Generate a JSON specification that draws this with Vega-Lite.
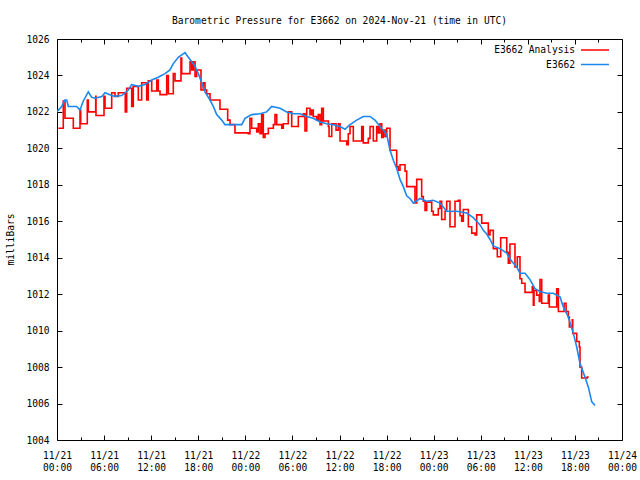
{
  "$schema": "https://vega.github.io/schema/vega-lite/v6.json",
  "width": 565,
  "height": 401,
  "autosize": {"type": "none"},
  "padding": {"left": 57, "top": 39, "right": 18, "bottom": 40},
  "background": "white",
  "title": {
    "text": "Barometric Pressure for E3662 on 2024-Nov-21 (time in UTC)",
    "font": "DejaVu Sans Mono",
    "fontSize": 9.6,
    "fontWeight": "normal",
    "color": "black",
    "anchor": "middle",
    "offset": 8
  },
  "config": {
    "view": {"stroke": "black", "strokeWidth": 1},
    "axis": {
      "labelFont": "DejaVu Sans Mono",
      "labelFontSize": 9.6,
      "labelColor": "black",
      "titleFont": "DejaVu Sans Mono",
      "titleFontSize": 9.6,
      "titleFontWeight": "normal",
      "titleColor": "black",
      "tickColor": "black",
      "domain": false,
      "grid": false
    },
    "legend": {
      "labelFont": "DejaVu Sans Mono",
      "labelFontSize": 9.6,
      "labelColor": "black"
    }
  },
  "datasets": {
    "analysis": [
      {"hour": 0.17, "p": 1021.1}, {"hour": 0.80, "p": 1022.6}, {"hour": 1.02, "p": 1021.65}, {"hour": 2.08, "p": 1021.1},
      {"hour": 2.93, "p": 1022.1}, {"hour": 3.02, "p": 1021.35}, {"hour": 3.86, "p": 1022.65}, {"hour": 3.99, "p": 1022.0},
      {"hour": 4.93, "p": 1022.85}, {"hour": 4.97, "p": 1021.8}, {"hour": 5.99, "p": 1022.85}, {"hour": 6.12, "p": 1022.2},
      {"hour": 6.97, "p": 1023.05}, {"hour": 7.39, "p": 1022.85}, {"hour": 7.81, "p": 1023.05}, {"hour": 8.67, "p": 1023.0},
      {"hour": 8.70, "p": 1022.0}, {"hour": 8.88, "p": 1023.3}, {"hour": 9.52, "p": 1022.3}, {"hour": 9.72, "p": 1023.4},
      {"hour": 10.36, "p": 1022.65}, {"hour": 10.79, "p": 1023.6}, {"hour": 11.43, "p": 1022.65}, {"hour": 11.63, "p": 1023.7},
      {"hour": 12.07, "p": 1023.15}, {"hour": 12.71, "p": 1023.75}, {"hour": 12.91, "p": 1023.15}, {"hour": 13.13, "p": 1022.95},
      {"hour": 13.98, "p": 1024.0}, {"hour": 14.19, "p": 1023.0}, {"hour": 14.82, "p": 1024.1}, {"hour": 15.04, "p": 1023.7},
      {"hour": 15.80, "p": 1024.95}, {"hour": 15.89, "p": 1024.1}, {"hour": 16.95, "p": 1024.75}, {"hour": 17.17, "p": 1024.3},
      {"hour": 17.37, "p": 1024.75}, {"hour": 17.59, "p": 1023.95}, {"hour": 17.80, "p": 1024.3}, {"hour": 18.35, "p": 1023.2},
      {"hour": 18.64, "p": 1023.6}, {"hour": 18.86, "p": 1023.2}, {"hour": 19.07, "p": 1023.0}, {"hour": 19.50, "p": 1022.65},
      {"hour": 20.77, "p": 1022.15}, {"hour": 21.75, "p": 1021.55}, {"hour": 22.05, "p": 1021.3}, {"hour": 22.68, "p": 1020.85},
      {"hour": 24.38, "p": 1020.8}, {"hour": 24.59, "p": 1021.65}, {"hour": 24.81, "p": 1021.1}, {"hour": 25.45, "p": 1020.9},
      {"hour": 25.65, "p": 1021.35}, {"hour": 25.87, "p": 1020.8}, {"hour": 26.08, "p": 1021.85}, {"hour": 26.29, "p": 1020.6},
      {"hour": 26.51, "p": 1020.8}, {"hour": 26.93, "p": 1021.1}, {"hour": 27.57, "p": 1021.3}, {"hour": 27.78, "p": 1021.85},
      {"hour": 28.0, "p": 1021.3}, {"hour": 28.64, "p": 1021.1}, {"hour": 28.84, "p": 1021.35}, {"hour": 29.47, "p": 1022.0},
      {"hour": 29.91, "p": 1021.2}, {"hour": 30.75, "p": 1021.75}, {"hour": 31.39, "p": 1021.9}, {"hour": 31.60, "p": 1020.95},
      {"hour": 31.82, "p": 1022.2}, {"hour": 32.24, "p": 1021.85}, {"hour": 32.45, "p": 1022.1}, {"hour": 32.66, "p": 1021.75},
      {"hour": 33.09, "p": 1021.55}, {"hour": 33.30, "p": 1021.85}, {"hour": 33.52, "p": 1021.3}, {"hour": 33.73, "p": 1022.2},
      {"hour": 33.94, "p": 1021.5}, {"hour": 34.58, "p": 1021.2}, {"hour": 34.67, "p": 1020.65}, {"hour": 35.01, "p": 1021.35},
      {"hour": 35.56, "p": 1021.0}, {"hour": 35.85, "p": 1021.35}, {"hour": 36.07, "p": 1020.4}, {"hour": 36.92, "p": 1020.2},
      {"hour": 37.12, "p": 1020.8}, {"hour": 37.34, "p": 1021.2}, {"hour": 37.76, "p": 1020.4}, {"hour": 38.83, "p": 1021.2},
      {"hour": 39.03, "p": 1020.3}, {"hour": 39.67, "p": 1020.55}, {"hour": 39.89, "p": 1021.2}, {"hour": 40.31, "p": 1020.4},
      {"hour": 40.74, "p": 1021.2}, {"hour": 40.95, "p": 1020.85}, {"hour": 41.16, "p": 1021.35}, {"hour": 41.38, "p": 1020.6},
      {"hour": 41.58, "p": 1021.0}, {"hour": 41.80, "p": 1020.65}, {"hour": 42.02, "p": 1021.1}, {"hour": 42.44, "p": 1019.9},
      {"hour": 43.29, "p": 1019.0}, {"hour": 43.49, "p": 1018.8}, {"hour": 43.71, "p": 1019.1}, {"hour": 44.35, "p": 1018.75},
      {"hour": 44.56, "p": 1017.9}, {"hour": 45.62, "p": 1017.0}, {"hour": 45.84, "p": 1018.3}, {"hour": 46.47, "p": 1017.35},
      {"hour": 46.68, "p": 1017.1}, {"hour": 46.90, "p": 1016.6}, {"hour": 47.11, "p": 1017.05}, {"hour": 47.75, "p": 1016.55},
      {"hour": 47.95, "p": 1016.35}, {"hour": 48.59, "p": 1016.7}, {"hour": 48.81, "p": 1017.1}, {"hour": 49.02, "p": 1016.1},
      {"hour": 49.45, "p": 1016.55}, {"hour": 49.66, "p": 1017.1}, {"hour": 50.08, "p": 1015.7}, {"hour": 50.72, "p": 1017.1},
      {"hour": 51.14, "p": 1017.15}, {"hour": 51.36, "p": 1016.3}, {"hour": 51.57, "p": 1016.0}, {"hour": 51.78, "p": 1016.65},
      {"hour": 52.42, "p": 1015.7}, {"hour": 52.85, "p": 1015.35}, {"hour": 53.27, "p": 1015.25}, {"hour": 53.48, "p": 1016.35},
      {"hour": 54.12, "p": 1015.9}, {"hour": 54.96, "p": 1015.25}, {"hour": 55.18, "p": 1015.5}, {"hour": 55.60, "p": 1014.5},
      {"hour": 56.11, "p": 1014.05}, {"hour": 56.54, "p": 1015.1}, {"hour": 57.31, "p": 1014.3}, {"hour": 57.51, "p": 1013.7},
      {"hour": 57.72, "p": 1014.75}, {"hour": 58.36, "p": 1013.5}, {"hour": 58.66, "p": 1014.05}, {"hour": 59.00, "p": 1012.85},
      {"hour": 59.22, "p": 1012.6}, {"hour": 59.64, "p": 1012.1}, {"hour": 60.57, "p": 1012.4}, {"hour": 60.70, "p": 1011.4},
      {"hour": 60.79, "p": 1012.2}, {"hour": 61.13, "p": 1011.95}, {"hour": 61.46, "p": 1011.6}, {"hour": 61.55, "p": 1012.8},
      {"hour": 61.77, "p": 1011.5}, {"hour": 62.61, "p": 1011.95}, {"hour": 62.74, "p": 1011.3}, {"hour": 63.68, "p": 1012.3},
      {"hour": 63.89, "p": 1011.05}, {"hour": 64.62, "p": 1011.5}, {"hour": 64.87, "p": 1011.05}, {"hour": 65.16, "p": 1010.75},
      {"hour": 65.29, "p": 1010.2}, {"hour": 65.67, "p": 1010.6}, {"hour": 65.72, "p": 1009.85}, {"hour": 66.23, "p": 1009.4},
      {"hour": 66.56, "p": 1009.1}, {"hour": 66.65, "p": 1008.0}, {"hour": 66.86, "p": 1007.4}, {"hour": 67.58, "p": 1007.45},
      {"hour": 67.75, "p": 1007.45}
    ],
    "obs": [
      {"hour": 0.0, "p": 1022.0}, {"hour": 0.17, "p": 1022.1}, {"hour": 0.6, "p": 1022.3}, {"hour": 1.0, "p": 1022.65}, {"hour": 1.24, "p": 1022.65},
      {"hour": 1.44, "p": 1022.3}, {"hour": 2.51, "p": 1022.3}, {"hour": 2.93, "p": 1022.1}, {"hour": 3.35, "p": 1022.6},
      {"hour": 3.99, "p": 1023.1}, {"hour": 4.42, "p": 1022.8}, {"hour": 4.84, "p": 1022.75}, {"hour": 5.70, "p": 1022.85},
      {"hour": 6.12, "p": 1023.05}, {"hour": 6.97, "p": 1022.9}, {"hour": 7.39, "p": 1022.85}, {"hour": 8.25, "p": 1022.9},
      {"hour": 9.09, "p": 1023.2}, {"hour": 9.52, "p": 1023.5}, {"hour": 10.36, "p": 1023.4}, {"hour": 11.21, "p": 1023.5},
      {"hour": 12.07, "p": 1023.75}, {"hour": 12.91, "p": 1023.9}, {"hour": 13.76, "p": 1024.1}, {"hour": 14.40, "p": 1024.3},
      {"hour": 14.82, "p": 1024.65}, {"hour": 15.46, "p": 1025.0}, {"hour": 16.31, "p": 1025.25}, {"hour": 16.73, "p": 1025.0},
      {"hour": 17.17, "p": 1024.75}, {"hour": 17.59, "p": 1024.5}, {"hour": 18.01, "p": 1024.1}, {"hour": 18.44, "p": 1023.6},
      {"hour": 18.86, "p": 1023.1}, {"hour": 19.50, "p": 1022.65}, {"hour": 19.92, "p": 1022.3}, {"hour": 20.35, "p": 1021.85},
      {"hour": 20.99, "p": 1021.55}, {"hour": 21.41, "p": 1021.3}, {"hour": 22.26, "p": 1021.3}, {"hour": 23.54, "p": 1021.3},
      {"hour": 23.96, "p": 1021.65}, {"hour": 24.81, "p": 1021.85}, {"hour": 25.87, "p": 1021.9}, {"hour": 26.72, "p": 1022.0},
      {"hour": 27.36, "p": 1022.3}, {"hour": 28.42, "p": 1022.2}, {"hour": 29.27, "p": 1022.0}, {"hour": 30.11, "p": 1021.9},
      {"hour": 30.97, "p": 1021.9}, {"hour": 31.82, "p": 1021.75}, {"hour": 32.66, "p": 1021.65}, {"hour": 33.52, "p": 1021.45},
      {"hour": 34.37, "p": 1021.35}, {"hour": 35.21, "p": 1021.3}, {"hour": 36.06, "p": 1021.2}, {"hour": 36.70, "p": 1021.05},
      {"hour": 37.34, "p": 1021.3}, {"hour": 38.19, "p": 1021.55}, {"hour": 39.03, "p": 1021.75}, {"hour": 39.89, "p": 1021.75},
      {"hour": 40.52, "p": 1021.55}, {"hour": 41.16, "p": 1021.2}, {"hour": 41.58, "p": 1021.0}, {"hour": 42.02, "p": 1020.75},
      {"hour": 42.44, "p": 1019.9}, {"hour": 42.86, "p": 1019.35}, {"hour": 43.29, "p": 1018.9}, {"hour": 43.71, "p": 1018.3},
      {"hour": 44.13, "p": 1017.9}, {"hour": 44.56, "p": 1017.4}, {"hour": 44.98, "p": 1017.25}, {"hour": 45.41, "p": 1017.0},
      {"hour": 46.26, "p": 1017.25}, {"hour": 47.11, "p": 1017.1}, {"hour": 47.95, "p": 1017.15}, {"hour": 48.81, "p": 1017.0},
      {"hour": 49.66, "p": 1016.55}, {"hour": 50.94, "p": 1016.55}, {"hour": 52.21, "p": 1016.45}, {"hour": 53.05, "p": 1016.2},
      {"hour": 53.91, "p": 1015.8}, {"hour": 54.33, "p": 1015.5}, {"hour": 54.76, "p": 1015.3}, {"hour": 55.18, "p": 1015.0},
      {"hour": 55.60, "p": 1014.65}, {"hour": 56.46, "p": 1014.5}, {"hour": 57.31, "p": 1014.25}, {"hour": 57.95, "p": 1013.8},
      {"hour": 58.58, "p": 1013.5}, {"hour": 59.00, "p": 1013.15}, {"hour": 59.64, "p": 1013.15}, {"hour": 60.28, "p": 1012.8},
      {"hour": 60.91, "p": 1012.3}, {"hour": 61.55, "p": 1012.15}, {"hour": 62.41, "p": 1012.05}, {"hour": 63.25, "p": 1012.05},
      {"hour": 64.10, "p": 1011.85}, {"hour": 64.52, "p": 1011.3}, {"hour": 65.16, "p": 1010.75}, {"hour": 65.80, "p": 1009.85},
      {"hour": 66.23, "p": 1009.1}, {"hour": 66.65, "p": 1008.2}, {"hour": 67.29, "p": 1007.45}, {"hour": 67.71, "p": 1006.9},
      {"hour": 68.14, "p": 1006.1}, {"hour": 68.56, "p": 1005.9}
    ]
  },
  "layer": [
    {
      "data": {"name": "analysis"},
      "mark": {"type": "line", "interpolate": "step-after", "strokeWidth": 1.6, "clip": true},
      "encoding": {
        "x": {
          "field": "hour", "type": "quantitative",
          "scale": {"domain": [0, 72], "nice": false, "zero": false},
          "axis": {
            "orient": "bottom",
            "title": null,
            "values": [0, 3, 6, 9, 12, 15, 18, 21, 24, 27, 30, 33, 36, 39, 42, 45, 48, 51, 54, 57, 60, 63, 66, 69, 72],
            "tickSize": {"condition": {"test": "datum.value % 6 !== 0", "value": -3}, "value": -5},
            "labelPadding": 15,
            "labelLineHeight": 12,
            "labelBaseline": "top",
            "labelFlush": false,
            "labelOverlap": false,
            "labelExpr": "datum.value % 6 === 0 ? ['11/' + (21 + floor(datum.value / 24)), ((datum.value % 24) < 10 ? '0' : '') + (datum.value % 24) + ':00'] : ''"
          }
        },
        "y": {
          "field": "p", "type": "quantitative",
          "scale": {"domain": [1004, 1026], "nice": false, "zero": false},
          "axis": {
            "orient": "left",
            "title": "milliBars",
            "format": "d",
            "values": [1004, 1006, 1008, 1010, 1012, 1014, 1016, 1018, 1020, 1022, 1024, 1026],
            "tickSize": -5,
            "labelPadding": 13,
            "labelFlush": false,
            "labelOverlap": false,
            "titleX": -47,
            "titleY": 200,
            "titleAngle": -90,
            "titleAlign": "center",
            "titleBaseline": "middle"
          }
        },
        "color": {
          "datum": "E3662 Analysis",
          "type": "nominal",
          "scale": {"domain": ["E3662 Analysis", "E3662"], "range": ["#ff0000", "#1a88f0"]},
          "legend": {
            "title": null,
            "orient": "none",
            "legendX": 532,
            "legendY": 5,
            "symbolType": "M-2.8,0H2.8",
            "symbolSize": 100,
            "symbolStrokeWidth": 1.5,
            "labelAlign": "right",
            "labelOffset": -26,
            "rowPadding": 3.5,
            "padding": 0
          }
        }
      }
    },
    {
      "data": {"name": "obs"},
      "mark": {"type": "line", "strokeWidth": 1.6, "clip": true},
      "encoding": {
        "x": {
          "field": "hour", "type": "quantitative",
          "axis": {
            "orient": "top",
            "title": null,
            "labels": false,
            "values": [0, 3, 6, 9, 12, 15, 18, 21, 24, 27, 30, 33, 36, 39, 42, 45, 48, 51, 54, 57, 60, 63, 66, 69, 72],
            "tickSize": {"condition": {"test": "datum.value % 6 !== 0", "value": -3}, "value": -5}
          }
        },
        "y": {
          "field": "p", "type": "quantitative",
          "axis": {
            "orient": "right",
            "title": null,
            "labels": false,
            "values": [1004, 1006, 1008, 1010, 1012, 1014, 1016, 1018, 1020, 1022, 1024, 1026],
            "tickSize": -5
          }
        },
        "color": {"datum": "E3662", "type": "nominal"}
      }
    }
  ],
  "resolve": {"axis": {"x": "independent", "y": "independent"}}
}
